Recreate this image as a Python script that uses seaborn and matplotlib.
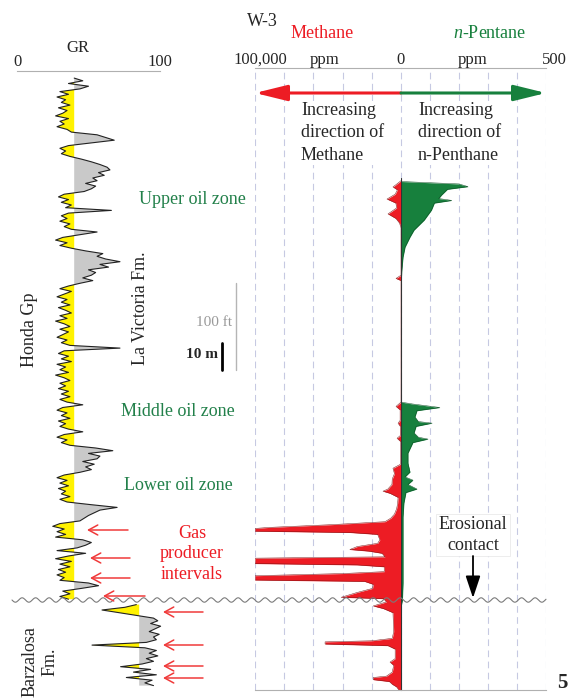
import numpy as np
import matplotlib
matplotlib.use("Agg")
import matplotlib.pyplot as plt
import seaborn as sns

# ---- data -------------------------------------------------------------
# GR log (API), upper interval (Honda Gp), one sample per metre starting at 3 m
gr_upper_top = 3
gr_upper = [
    40, 46, 36, 50, 44,
    30, 36, 28, 34, 31, 37, 29, 35, 32, 27, 36, 30, 33, 28, 35, 38,
    56, 62, 68, 52,
    36, 30, 34, 31, 37,
    45, 52, 58, 63, 65, 57, 61, 53, 56, 48, 55,
    52, 47,
    33, 29, 36, 31, 38, 34,
    66,
    36, 31, 35, 30, 37, 33, 38,
    56, 44,
    32, 27, 35, 30, 38,
    48, 60, 56, 62, 72, 58, 64, 50, 55, 52, 46, 53, 44,
    36, 30, 38, 33, 28, 35, 31, 37, 29, 34, 38, 30, 35, 27, 33, 37, 30, 36, 32, 28,
    35, 31, 37, 72, 33, 29, 36, 31, 38, 28, 34, 30, 36, 27, 33, 37, 30,
    34, 29, 36, 31, 37, 30, 35, 46, 32, 28, 35, 31, 37, 29, 34, 30, 36, 46, 33, 28, 35, 31, 37,
    55, 67, 50, 58, 56, 46, 54, 48, 52, 44,
    33, 28, 35, 30, 36, 29, 34, 31, 37, 30, 35,
    52, 70, 58, 54, 50, 47, 44,
    30, 25, 33, 28, 34, 27,
    46, 52, 48, 42,
    28, 48, 36, 27, 38, 30, 37, 29,
    34, 28, 33, 30,
    50, 57, 45,
    32, 37, 30, 36,
]
# GR log, Barzalosa Fm. (below the erosional contact), one sample per metre from 198 m
gr_lower_top = 198
gr_lower = [
    38, 30, 14, 26, 38, 50, 53, 48, 55, 51, 47, 54, 50, 52, 45, 7,
    44, 52, 47, 53, 45, 50, 42, 27, 48, 36, 52, 31, 49, 44, 50,
]
gr_cutoff = 40

# Methane (ppm) vs depth (m)
ch4_depth = [
    41.0, 42.5, 43.3, 44.4, 46.0, 47.8, 49.3, 51.1, 53.3, 55.0, 56.7, 58.5,
    76.0, 77.2, 78.0,
    123.0, 124.6, 125.9, 129.8, 130.8, 132.0, 135.4, 136.4, 137.6, 146.0,
    147.5, 149.5, 151.5, 153.5, 155.2, 156.0, 156.8, 158.3, 160.5, 162.5,
    164.5, 166.0, 167.3, 168.4, 169.4, 169.8, 170.8, 171.3, 172.0, 174.0,
    175.3, 176.5, 177.6, 178.2, 179.0, 180.3, 180.8, 182.8, 183.3, 184.0,
    185.8, 186.5, 187.3, 188.9, 189.4, 190.5, 192.0, 193.5, 195.3, 195.8,
    197.0, 198.5, 199.5, 201.0, 208.0, 210.5, 211.4, 211.8, 212.6, 213.2,
    214.5, 218.0, 219.3, 220.5, 223.0, 224.5, 225.0, 225.8, 226.5, 227.5,
    228.5, 229.6,
]
ch4_ppm = [
    0, 3500, 5500, 2500, 4000, 9600, 3500, 3000, 8900, 3500, 1000, 0,
    0, 3400, 0,
    0, 3400, 600, 600, 2000, 500, 500, 2700, 300, 300,
    5500, 4500, 6000, 6200, 9000, 12300, 7500, 2000, 2300, 3000,
    4500, 7000, 11000, 48000, 90000, 100000, 100000, 35000, 16000, 14500,
    16000, 30000, 35000, 22000, 13000, 11000, 100000, 100000, 30000, 11500,
    11500, 40000, 100000, 100000, 25000, 19000, 19500, 30000, 41000, 12000,
    10000, 19000, 12000, 5500, 5000, 6000, 20000, 52000, 52000, 9000,
    4000, 4000, 7500, 5000, 6000, 10000, 19000, 19000, 8000, 6000,
    3000, 1500,
]

# n-Pentane (ppm) vs depth (m)
c5_depth = [
    41.3, 42.2, 43.2, 44.2, 46.3, 47.6, 48.3, 49.3, 51.9, 55.6, 59.3, 61.9,
    65.6, 69.3, 74.1, 79.6,
    123.0, 123.7, 125.0, 126.2, 128.5, 130.2, 130.8, 132.0, 134.4, 136.0,
    136.7, 138.0, 141.9, 145.6, 148.9, 150.7, 151.9, 153.5, 155.2, 156.5,
    160.4, 165.6, 175.0, 190.0, 196.3, 199.0, 229.6,
]
c5_ppm = [
    0, 200, 231, 160, 140, 130, 175, 115, 105, 80, 45, 31,
    14, 7, 3, 0,
    0, 40, 134, 55, 48, 60, 107, 52, 45, 60,
    93, 41, 24, 24, 31, 14, 41, 24, 55, 17,
    10, 7, 7, 7, 5, 0, 0,
]

# ---- layout -------------------------------------------------------------
W, H = 569, 698
PX_PER_M = 2.7
TOP_PX = 70

YELLOW = "#fff200"
GREY = "#c9c9c9"
RED = "#ed1c24"
GREEN = "#17803d"
ZONE_GREEN = "#22804a"
GRID = "#c6c9e2"
LINE = "#b0b0b0"

sns.set_style("white")
plt.rcParams["font.family"] = ["Liberation Serif", "DejaVu Serif"]
plt.rcParams["mathtext.fontset"] = "custom"
plt.rcParams["mathtext.rm"] = "Liberation Serif"
plt.rcParams["mathtext.it"] = "Liberation Serif:italic"

fig = plt.figure(figsize=(W / 100, H / 100), dpi=100)


def rect(x0, y0, x1, y1):
    return [x0 / W, 1 - y1 / H, (x1 - x0) / W, (y1 - y0) / H]


def depth_lim(y0, y1):
    return ((y1 - TOP_PX) / PX_PER_M, (y0 - TOP_PX) / PX_PER_M)


def clean(ax):
    ax.set_facecolor("none")
    ax.tick_params(length=0, labelleft=False, labelbottom=False, labeltop=False)
    for s in ax.spines.values():
        s.set_visible(False)


def gr_track(box, top, values):
    gr = np.array(values, dtype=float)
    depth = np.arange(top, top + len(gr), dtype=float)
    ax = fig.add_axes(rect(*box))
    clean(ax)
    ax.fill_betweenx(depth, gr, gr_cutoff, where=gr <= gr_cutoff,
                     interpolate=True, color=YELLOW, lw=0)
    ax.fill_betweenx(depth, gr, gr_cutoff, where=gr >= gr_cutoff,
                     interpolate=True, color=GREY, lw=0)
    sns.lineplot(x=gr, y=depth, orient="y", sort=False, estimator=None,
                 color="#222222", lw=0.8, ax=ax)
    ax.set_xlim(0, 100)
    ax.set_ylim(*depth_lim(box[1], box[3]))
    ax.set_xlabel("")
    ax.set_ylabel("")
    return ax


# GR tracks
ax_gr = gr_track((17, 71, 160, 690), gr_upper_top, gr_upper)
ax_gr.spines["top"].set_visible(True)
ax_gr.spines["top"].set_color(LINE)
ax_gr.xaxis.tick_top()
ax_gr.set_xticks([0, 100])
ax_gr.tick_params(labeltop=True, labelsize=12, pad=1)
gr_track((82, 71, 225, 690), gr_lower_top, gr_lower)

# Methane track (scale increases to the left)
ax_m = fig.add_axes(rect(255, 68, 401, 690))
clean(ax_m)
ax_m.set_axisbelow(True)
ax_m.set_xticks(np.arange(0, 100001, 20000))
ax_m.grid(axis="x", color=GRID, ls=(0, (6, 4)), lw=0.8)
ax_m.fill_betweenx(ch4_depth, 0, ch4_ppm, color=RED, lw=0)
sns.lineplot(x=ch4_ppm, y=ch4_depth, orient="y", sort=False, estimator=None,
             color="#7a1414", lw=0.35, ax=ax_m)
ax_m.set_xlim(100000, 0)
ax_m.set_ylim(*depth_lim(68, 690))
for s in ("top", "bottom"):
    ax_m.spines[s].set_visible(True)
    ax_m.spines[s].set_color(LINE)
ax_m.set_xlabel("")
ax_m.set_ylabel("")

# n-Pentane track
ax_p = fig.add_axes(rect(401, 68, 546, 690))
clean(ax_p)
ax_p.set_axisbelow(True)
ax_p.set_xticks(np.arange(0, 501, 100))
ax_p.grid(axis="x", color=GRID, ls=(0, (6, 4)), lw=0.8)
ax_p.fill_betweenx(c5_depth, 0, c5_ppm, color=GREEN, lw=0)
sns.lineplot(x=c5_ppm, y=c5_depth, orient="y", sort=False, estimator=None,
             color="#0d4d24", lw=0.35, ax=ax_p)
ax_p.plot([0, 0], [40, 229.6], color="#333333", lw=0.8)
ax_p.set_xlim(0, 500)
ax_p.set_ylim(*depth_lim(68, 690))
for s in ("top", "bottom"):
    ax_p.spines[s].set_visible(True)
    ax_p.spines[s].set_color(LINE)
ax_p.set_xlabel("")
ax_p.set_ylabel("")

# ---- annotations (pixel overlay) -----------------------------------------
ov = fig.add_axes([0, 0, 1, 1])
ov.set_xlim(0, W)
ov.set_ylim(H, 0)
ov.axis("off")
ov.patch.set_alpha(0)

ov.text(78, 48, "GR", fontsize=12, ha="center", va="center")
ov.text(247, 22, "W-3", fontsize=13, va="center", ha="left")
ov.text(322, 33, "Methane", fontsize=13, color=RED, ha="center", va="center")
ov.text(490, 33, r"$\it{n}$-Pentane", fontsize=13, color=GREEN, ha="center", va="center")
for x, s, ha in [(260, "100,000", "center"), (325, "ppm", "center"), (401, "0", "center"),
                 (473, "ppm", "center"), (567, "500", "right")]:
    ov.text(x, 60, s, fontsize=12, ha=ha, va="center")

arrow_style = "-|>,head_length=1.3,head_width=0.32"
ov.annotate("", xy=(255, 93), xytext=(401, 93),
            arrowprops=dict(arrowstyle=arrow_style, mutation_scale=15, color=RED,
                            lw=2.2, shrinkA=0, shrinkB=0))
ov.annotate("", xy=(546, 93), xytext=(401, 93),
            arrowprops=dict(arrowstyle=arrow_style, mutation_scale=15, color=GREEN,
                            lw=2.2, shrinkA=0, shrinkB=0))

box = dict(facecolor="white", edgecolor="none", pad=1)
ov.text(301, 102, "Increasing\ndirection of\nMethane", fontsize=13, ha="left",
        va="top", linespacing=1.42, bbox=box)
ov.text(418, 102, "Increasing\ndirection of\nn-Penthane", fontsize=13, ha="left",
        va="top", linespacing=1.42, bbox=box)

ov.text(192, 200, "Upper oil zone", fontsize=13, color=ZONE_GREEN, ha="center", va="center")
ov.text(178, 412, "Middle oil zone", fontsize=13, color=ZONE_GREEN, ha="center", va="center")
ov.text(178, 485, "Lower oil zone", fontsize=13, color=ZONE_GREEN, ha="center", va="center")
ov.text(192, 554, "Gas\nproducer\nintervals", fontsize=13, color=RED, ha="center",
        va="center", linespacing=1.25)

ov.text(141, 308, "La Victoria Fm.", fontsize=13, rotation=90, ha="center", va="center")
ov.text(30, 330, "Honda Gp", fontsize=13, rotation=90, ha="center", va="center")
ov.text(40, 662, "Barzalosa\nFm.", fontsize=13, rotation=90, ha="center", va="center",
        multialignment="center", linespacing=1.3)

# depth scale bar
ov.plot([236, 236], [283, 370], color="#b5b5b5", lw=1)
ov.plot([222, 222], [343, 370], color="black", lw=2)
ov.text(232, 322, "100 ft", fontsize=11, color="#999999", ha="right", va="center")
ov.text(218, 354, "10 m", fontsize=11, fontweight="bold", ha="right", va="center")

# erosional contact
xs = np.linspace(12, 546, 800)
ov.plot(xs, 600 + 2.2 * np.sin(2 * np.pi * (xs - 12) / 13.5), color="#7a7a7a", lw=0.8)
ov.text(473, 535, "Erosional\ncontact", fontsize=13, ha="center", va="center",
        linespacing=1.25, bbox=dict(facecolor="white", edgecolor="#e6e6e6", lw=0.5, pad=2))
ov.annotate("", xy=(473, 598), xytext=(473, 556),
            arrowprops=dict(arrowstyle="-|>,head_length=0.9,head_width=0.3",
                            mutation_scale=15, color="black", lw=1.3, shrinkA=0, shrinkB=0))

# gas producer arrows
for x0, x1, y in [(128, 87, 530), (130, 90, 558), (130, 90, 578), (145, 103, 596),
                  (203, 163, 612), (203, 163, 645), (203, 163, 666), (203, 163, 678)]:
    ov.annotate("", xy=(x1, y), xytext=(x0, y),
                arrowprops=dict(arrowstyle="->,head_length=0.55,head_width=0.3",
                                mutation_scale=12, color="#f03a3a", lw=1.1,
                                shrinkA=0, shrinkB=0))

ov.text(557, 683, "5", fontsize=15, fontweight="bold", ha="left", va="center")

fig.savefig("out.png", dpi=100)
